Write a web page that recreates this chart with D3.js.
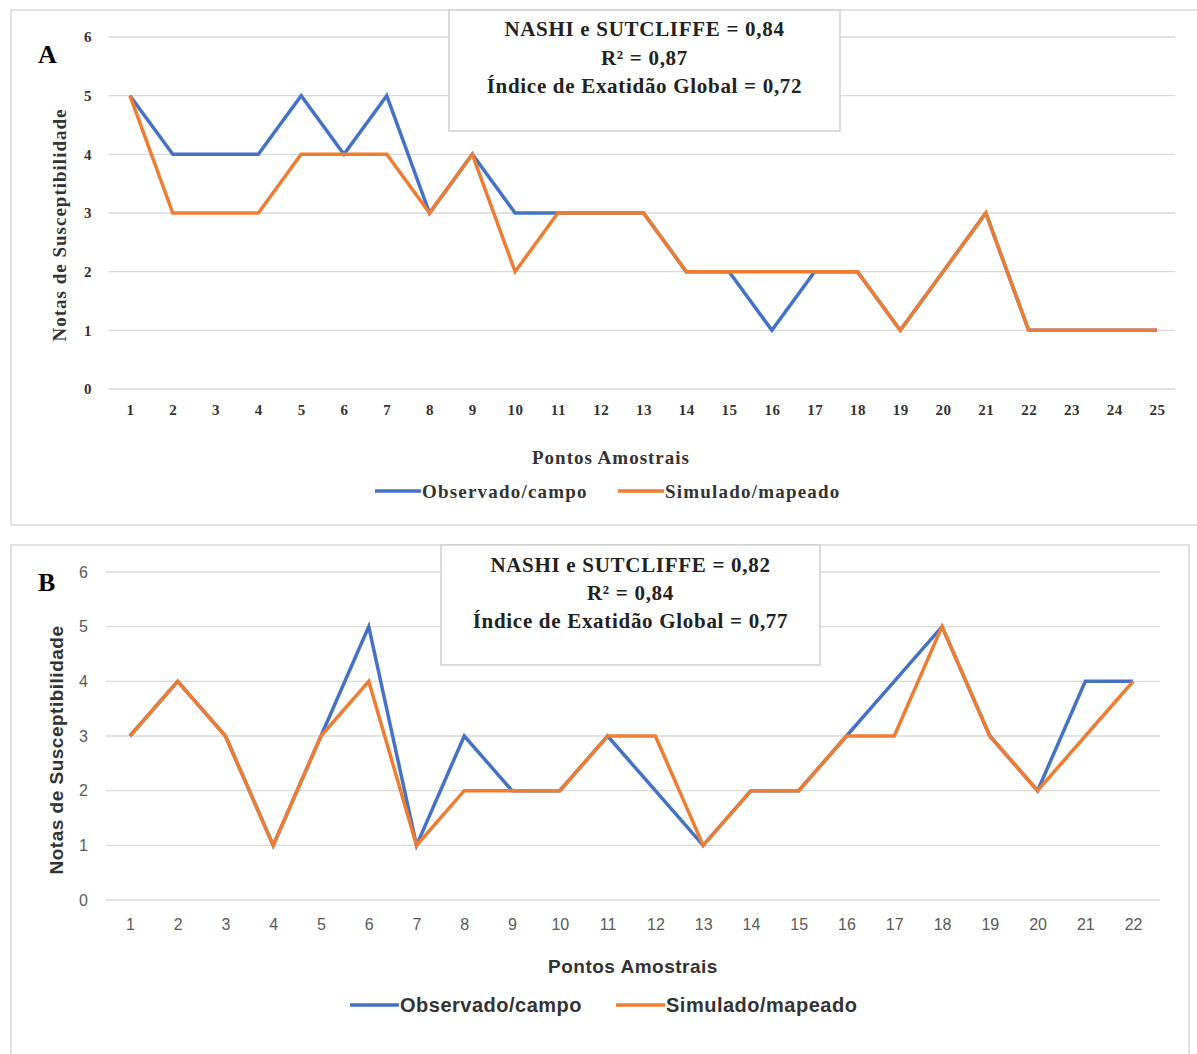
<!DOCTYPE html>
<html><head><meta charset="utf-8">
<script src="https://cdn.jsdelivr.net/npm/d3@7"></script>
<style>body{margin:0;background:#fff}svg{display:block}</style>
</head><body>
<script>
// ---- Data ----
const pointsA = d3.range(1, 26).map(String);
const observedA = [5,4,4,4,5,4,5,3,4,3,3,3,3,2,2,1,2,2,1,2,3,1,1,1,1];
const simulatedA = [5,3,3,3,4,4,4,3,4,2,3,3,3,2,2,2,2,2,1,2,3,1,1,1,1];
const statsA = ["NASHI e SUTCLIFFE = 0,84", "R² = 0,87", "Índice de Exatidão Global = 0,72"];

const pointsB = d3.range(1, 23).map(String);
const observedB = [3,4,3,1,3,5,1,3,2,2,3,2,1,2,2,3,4,5,3,2,4,4];
const simulatedB = [3,4,3,1,3,4,1,2,2,2,3,3,1,2,2,3,3,5,3,2,3,4];
const statsB = ["NASHI e SUTCLIFFE = 0,82", "R² = 0,84", "Índice de Exatidão Global = 0,77"];

const yTicks = [0,1,2,3,4,5,6];
const seriesNames = ["Observado/campo", "Simulado/mapeado"];
const colors = ["#4472C4", "#ED7D31"];

const svg = d3.select("body").append("svg").attr("width", 1197).attr("height", 1054);

function panel(cfg) {
  const g = svg.append("g");
  g.append("rect").attr("x", cfg.box[0]).attr("y", cfg.box[1]).attr("width", cfg.box[2]).attr("height", cfg.box[3])
    .attr("fill", "#fff").attr("stroke", "#d9d9d9").attr("stroke-width", 1.5);
  const x = d3.scalePoint().domain(cfg.cats).range(cfg.xr).padding(0.5);
  const y = d3.scaleLinear().domain([0, 6]).range(cfg.yr);
  // grid
  g.append("g").selectAll("line").data(yTicks).join("line")
    .attr("x1", cfg.xr[0]).attr("x2", cfg.gridEnd).attr("y1", d => y(d)).attr("y2", d => y(d))
    .attr("stroke", "#d9d9d9").attr("stroke-width", 1.3);
  // y axis
  const ya = g.append("g").attr("transform", `translate(${cfg.yLabX},0)`)
    .call(d3.axisLeft(y).tickValues(yTicks).tickSize(0).tickPadding(0).tickFormat(d3.format("d")));
  ya.select(".domain").remove();
  ya.selectAll("text").attr("font-family", cfg.tickFont).attr("font-size", cfg.tickSize)
    .attr("font-weight", cfg.tickWeight).attr("fill", cfg.tickColor).attr("letter-spacing", cfg.tickLs);
  // x axis
  const xa = g.append("g").attr("transform", `translate(0,${cfg.xLabY})`)
    .call(d3.axisBottom(x).tickSize(0).tickPadding(0));
  xa.select(".domain").remove();
  xa.selectAll("text").attr("font-family", cfg.tickFont).attr("font-size", cfg.tickSize)
    .attr("font-weight", cfg.tickWeight).attr("fill", cfg.tickColor).attr("letter-spacing", cfg.tickLs);
  // stats box
  g.append("rect").attr("x", cfg.sb[0]).attr("y", cfg.sb[1]).attr("width", cfg.sb[2]).attr("height", cfg.sb[3])
    .attr("fill", "#fff").attr("stroke", "#cfcfcf").attr("stroke-width", 1.5);
  g.append("g").selectAll("text").data(cfg.stats).join("text")
    .attr("x", cfg.sb[0] + cfg.sb[2] / 2).attr("y", (d, i) => cfg.statY + i * cfg.statDy)
    .attr("text-anchor", "middle").attr("font-family", "Liberation Serif, serif").attr("font-weight", "bold")
    .attr("font-size", 21).attr("letter-spacing", 0.7).attr("fill", "#222").text(d => d);
  // lines
  const line = d3.line().x((d, i) => x(cfg.cats[i])).y(d => y(d));
  [cfg.obs, cfg.sim].forEach((s, k) => {
    g.append("path").datum(s).attr("d", line).attr("fill", "none").attr("stroke", colors[k])
      .attr("stroke-width", 3.5).attr("stroke-linejoin", "miter");
  });
  // panel letter
  g.append("text").attr("x", 38).attr("y", cfg.letterY).attr("font-family", "Liberation Serif, serif")
    .attr("font-weight", "bold").attr("font-size", 26).attr("fill", "#000").text(cfg.letter);
  // axis titles
  g.append("text").attr("transform", `translate(${cfg.yTitleX},${cfg.yTitleY}) rotate(-90)`)
    .attr("text-anchor", "middle").attr("font-family", cfg.titleFont).attr("font-weight", "bold")
    .attr("font-size", cfg.yTitleSize).attr("letter-spacing", cfg.yTitleLs).attr("fill", "#333").text("Notas de Susceptibilidade");
  g.append("text").attr("x", cfg.xTitle[0]).attr("y", cfg.xTitle[1]).attr("text-anchor", "middle")
    .attr("font-family", cfg.titleFont).attr("font-weight", "bold").attr("font-size", cfg.xTitleSize)
    .attr("letter-spacing", cfg.xTitleLs).attr("fill", "#333").text("Pontos Amostrais");
  // legend
  seriesNames.forEach((n, k) => {
    const lx = cfg.legX[k];
    g.append("line").attr("x1", lx).attr("x2", lx + cfg.legLine).attr("y1", cfg.legY).attr("y2", cfg.legY)
      .attr("stroke", colors[k]).attr("stroke-width", 3.5);
    g.append("text").attr("x", lx + cfg.legLine + 1).attr("y", cfg.legY).attr("dy", "0.35em")
      .attr("font-family", cfg.titleFont).attr("font-weight", "bold").attr("font-size", cfg.legSize)
      .attr("letter-spacing", cfg.legLs).attr("fill", "#333").text(n);
  });
}

panel({
  cats: pointsA, obs: observedA, sim: simulatedA, stats: statsA, letter: "A", letterY: 63,
  box: [11, 10, 1190, 515], xr: [108.6, 1178.4], yr: [389, 37], gridEnd: 1175,
  yLabX: 92, xLabY: 404, tickFont: "Liberation Serif, serif", tickSize: 15, tickWeight: "bold", tickColor: "#333", tickLs: 0.5,
  sb: [449, 10, 391, 121], statY: 36, statDy: 28.5,
  titleFont: "Liberation Serif, serif", yTitleSize: 19, yTitleLs: 1, xTitleSize: 19, xTitleLs: 1,
  yTitleX: 66, yTitleY: 225, xTitle: [611, 464],
  legX: [375, 618], legY: 491, legLine: 46, legSize: 19, legLs: 1.2
});

panel({
  cats: pointsB, obs: observedB, sim: simulatedB, stats: statsB, letter: "B", letterY: 591,
  box: [11, 545, 1178, 515], xr: [106, 1157], yr: [900, 572], gridEnd: 1160,
  yLabX: 88, xLabY: 919, tickFont: "Liberation Sans, sans-serif", tickSize: 16, tickWeight: "normal", tickColor: "#595959", tickLs: 0,
  sb: [441, 545, 379, 120], statY: 572, statDy: 28,
  titleFont: "Liberation Sans, sans-serif", yTitleSize: 19, yTitleLs: 0.5, xTitleSize: 19, xTitleLs: 0.5,
  yTitleX: 63, yTitleY: 750, xTitle: [633, 973],
  legX: [350, 616], legY: 1005, legLine: 49, legSize: 20, legLs: 0.5
});
</script>
</body></html>
